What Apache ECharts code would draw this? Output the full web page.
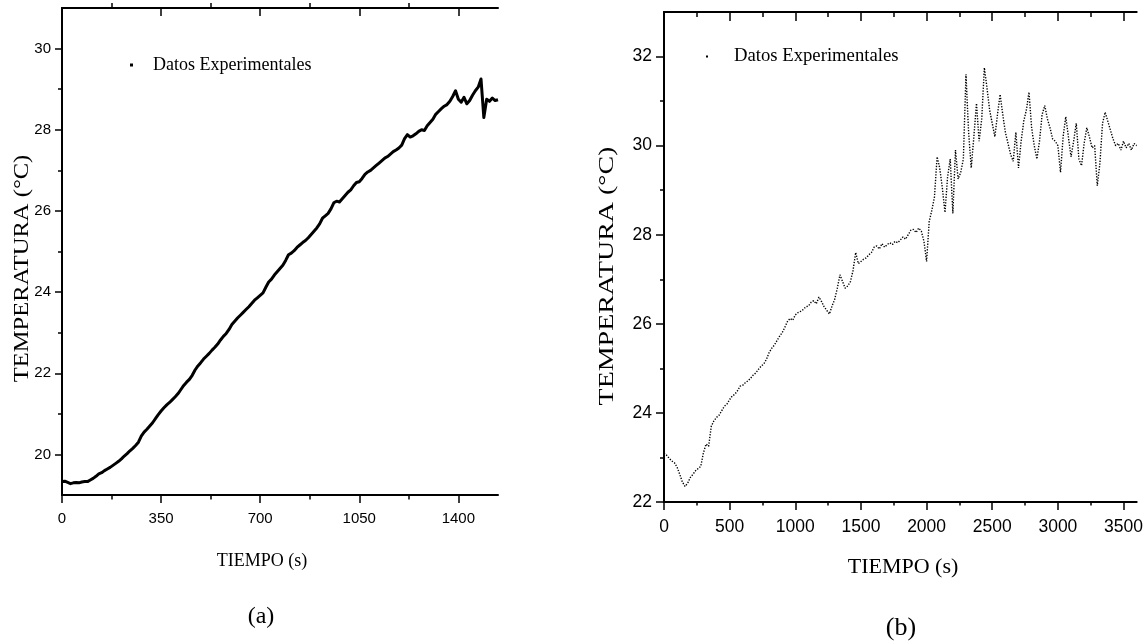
<!DOCTYPE html>
<html><head><meta charset="utf-8">
<script src="https://cdn.jsdelivr.net/npm/echarts@6/dist/echarts.min.js"></script>
<style>html,body{margin:0;padding:0;background:#fff}#c{width:1146px;height:644px}</style>
</head><body><div id="c"></div>
<script>
const seriesName = 'Datos Experimentales';
// (a) sampled every 10 s, 0..1540 s
const stepA = 10;
const tempA = [19.33,19.34,19.31,19.28,19.30,19.31,19.30,19.32,19.33,19.33,
 19.37,19.41,19.46,19.52,19.55,19.60,19.64,19.68,19.73,19.78,
 19.83,19.89,19.96,20.02,20.09,20.15,20.22,20.30,20.45,20.55,
 20.62,20.70,20.78,20.88,20.98,21.07,21.15,21.22,21.28,21.35,
 21.42,21.50,21.60,21.70,21.78,21.85,21.95,22.08,22.18,22.26,
 22.35,22.42,22.49,22.57,22.64,22.72,22.82,22.91,22.98,23.08,
 23.20,23.28,23.36,23.43,23.50,23.57,23.64,23.72,23.80,23.86,
 23.92,23.98,24.12,24.25,24.32,24.42,24.50,24.58,24.66,24.78,
 24.92,24.96,25.02,25.10,25.16,25.22,25.27,25.34,25.42,25.50,
 25.58,25.68,25.82,25.88,25.94,26.05,26.20,26.24,26.22,26.30,
 26.38,26.46,26.52,26.62,26.70,26.72,26.80,26.90,26.96,27.00,
 27.06,27.12,27.18,27.24,27.30,27.34,27.40,27.46,27.50,27.55,
 27.62,27.78,27.88,27.82,27.85,27.90,27.96,28.00,27.98,28.10,
 28.18,28.26,28.38,28.45,28.52,28.58,28.62,28.70,28.82,28.96,
 28.75,28.68,28.80,28.64,28.72,28.85,28.96,29.05,29.25,28.30,
 28.75,28.70,28.78,28.72,28.74];
// (b) sampled every 20 s, 0..3600 s
const stepB = 20;
const tempB = [23.10,23.05,22.98,22.92,22.88,22.78,22.62,22.45,22.35,22.42,
 22.55,22.62,22.70,22.75,22.80,23.10,23.30,23.25,23.70,23.82,
 23.90,23.95,24.05,24.15,24.20,24.30,24.38,24.42,24.50,24.60,
 24.62,24.68,24.72,24.78,24.85,24.90,24.98,25.05,25.10,25.20,
 25.35,25.45,25.52,25.62,25.72,25.80,25.92,26.05,26.12,26.08,
 26.20,26.25,26.28,26.32,26.38,26.40,26.48,26.52,26.45,26.60,
 26.50,26.38,26.30,26.22,26.40,26.55,26.80,27.10,26.95,26.80,
 26.85,26.95,27.20,27.60,27.35,27.40,27.45,27.48,27.55,27.60,
 27.72,27.75,27.68,27.80,27.72,27.78,27.82,27.78,27.85,27.82,
 27.88,27.95,27.90,28.00,28.10,28.12,28.05,28.15,28.08,27.85,
 27.40,28.30,28.55,28.85,29.75,29.50,29.05,28.50,29.30,29.70,
 28.48,29.90,29.25,29.40,29.70,31.60,30.30,29.50,30.20,30.95,
 30.10,30.60,31.75,31.30,30.80,30.50,30.20,30.70,31.15,30.70,
 30.30,30.05,29.80,29.65,30.30,29.50,30.10,30.55,30.80,31.20,
 30.40,30.00,29.70,30.10,30.70,30.90,30.60,30.40,30.15,30.10,
 30.00,29.40,30.20,30.65,30.20,29.75,30.10,30.50,29.70,29.55,
 30.05,30.40,30.20,29.95,30.00,29.10,29.60,30.50,30.75,30.55,
 30.35,30.15,30.00,30.05,29.90,30.10,29.95,30.05,29.90,30.05,
 30.00];
const xMajorA = [0,350,700,1050,1400];
const xMinorA = [175,525,875,1225];
const yMajorA = [20,22,24,26,28,30];
const yMinorA = [21,23,25,27,29];
const xMajorB = [0,500,1000,1500,2000,2500,3000,3500];
const xMinorB = [250,750,1250,1750,2250,2750,3250];
const yMajorB = [22,24,26,28,30,32];
const yMinorB = [23,25,27,29,31];

const serif = '"Liberation Serif","Times New Roman",serif';
const sans = '"Liberation Sans",Arial,sans-serif';
const black = '#000';

function pairs(step, vals){ return vals.map((v,i)=>[i*step, v]); }
function plain(v){ return String(v); }

function tick(values, len, inside){
  return {show:true, inside: !!inside, length: len, customValues: values, lineStyle:{color:black, width:1.5}};
}
function makeX(g, min, max, major, minor, o){
  const line = {show:true, lineStyle:{color:black, width:2}};
  const base = {type:'value', gridIndex:g, min:min, max:max, splitLine:{show:false}};
  return [
    Object.assign({}, base, {position:'bottom', axisLine:line, axisTick:tick(major, o.bMaj, false),
      axisLabel:{show:true, customValues:major, formatter:plain, margin:o.lm, fontFamily:sans, fontSize:o.fs, color:black}}),
    Object.assign({}, base, {position:'bottom', axisLine:{show:false}, axisTick:tick(minor, o.bMin, false), axisLabel:{show:false}}),
    Object.assign({}, base, {position:'top', axisLine:line, axisTick:tick(major, o.tMaj, true), axisLabel:{show:false}}),
    Object.assign({}, base, {position:'top', axisLine:{show:false}, axisTick:tick(minor, o.tMin, o.tMinIn), axisLabel:{show:false}})
  ];
}
function makeY(g, min, max, major, minor, o){
  const line = {show:true, lineStyle:{color:black, width:2}};
  const base = {type:'value', gridIndex:g, min:min, max:max, splitLine:{show:false}};
  return [
    Object.assign({}, base, {position:'left', axisLine:line, axisTick:tick(major, o.lMaj, false),
      axisLabel:{show:true, customValues:major, formatter:plain, margin:o.lm, fontFamily:sans, fontSize:o.fs, color:black}}),
    Object.assign({}, base, {position:'left', axisLine:{show:false}, axisTick:tick(minor, o.lMin, false), axisLabel:{show:false}}),
    Object.assign({}, base, {position:'right', axisLine:line, axisTick:tick(major, o.rMaj, true), axisLabel:{show:false}}),
    Object.assign({}, base, {position:'right', axisLine:{show:false}, axisTick:tick(minor, o.rMin, true), axisLabel:{show:false}})
  ];
}

const xAxes = makeX(0, 0, 1540, xMajorA, xMinorA, {bMaj:8, bMin:4.5, tMaj:8, tMin:5, tMinIn:false, lm:16, fs:15})
  .concat(makeX(1, 0, 3600, xMajorB, xMinorB, {bMaj:8, bMin:3.5, tMaj:9, tMin:5, tMinIn:true, lm:16, fs:17.5}));
const yAxes = makeY(0, 19, 31, yMajorA, yMinorA, {lMaj:7, lMin:4, rMaj:7, rMin:3, lm:11, fs:15})
  .concat(makeY(1, 22, 33, yMajorB, yMinorB, {lMaj:7, lMin:4, rMaj:8, rMin:4, lm:12, fs:17.5}));

function txt(x, y, text, size, rot, sx){
  return {type:'text', x:x, y:y, rotation:rot||0, scaleX:sx||1, silent:true,
    style:{text:text, font: size+'px '+serif, fill:black, align:'center', verticalAlign:'middle', textAlign:'center', textVerticalAlign:'middle'}};
}

const option = {
  animation:false,
  backgroundColor:'#fff',
  grid:[{left:62, top:8, width:436, height:487}, {left:664, top:12, width:474, height:490}],
  xAxis:xAxes,
  yAxis:yAxes,
  legend:[
    {data:[seriesName], left:125, top:51, icon:'rect', itemWidth:3, itemHeight:3, selectedMode:false,
     itemStyle:{color:black}, textStyle:{fontFamily:serif, fontSize:18, color:black, padding:[0,0,0,15]}},
    {data:[seriesName], left:701, top:42, icon:'rect', itemWidth:2, itemHeight:2, selectedMode:false,
     itemStyle:{color:black}, textStyle:{fontFamily:serif, fontSize:18.7, color:black, padding:[0,0,0,21]}}
  ],
  graphic:[
    txt(22.5, 268.5, 'TEMPERATURA (°C)', 21, Math.PI/2, 1.17),
    txt(607, 276, 'TEMPERATURA (°C)', 22, Math.PI/2, 1.27),
    txt(262, 561, 'TIEMPO (s)', 18),
    txt(903, 567, 'TIEMPO (s)', 22),
    txt(261, 617, '(a)', 24),
    txt(901, 628, '(b)', 26)
  ],
  series:[
    {name:seriesName, type:'line', xAxisIndex:0, yAxisIndex:0, data:pairs(stepA, tempA), symbol:'none',
     color:black, lineStyle:{color:black, width:3, join:'round'}},
    {name:seriesName, type:'line', xAxisIndex:4, yAxisIndex:4, data:pairs(stepB, tempB), symbol:'none',
     color:black, lineStyle:{color:black, width:1.4, type:[1.3,1.5]}}
  ]
};
const chart = echarts.init(document.getElementById('c'), null, {renderer:'canvas'});
chart.setOption(option);
</script>
</body></html>
